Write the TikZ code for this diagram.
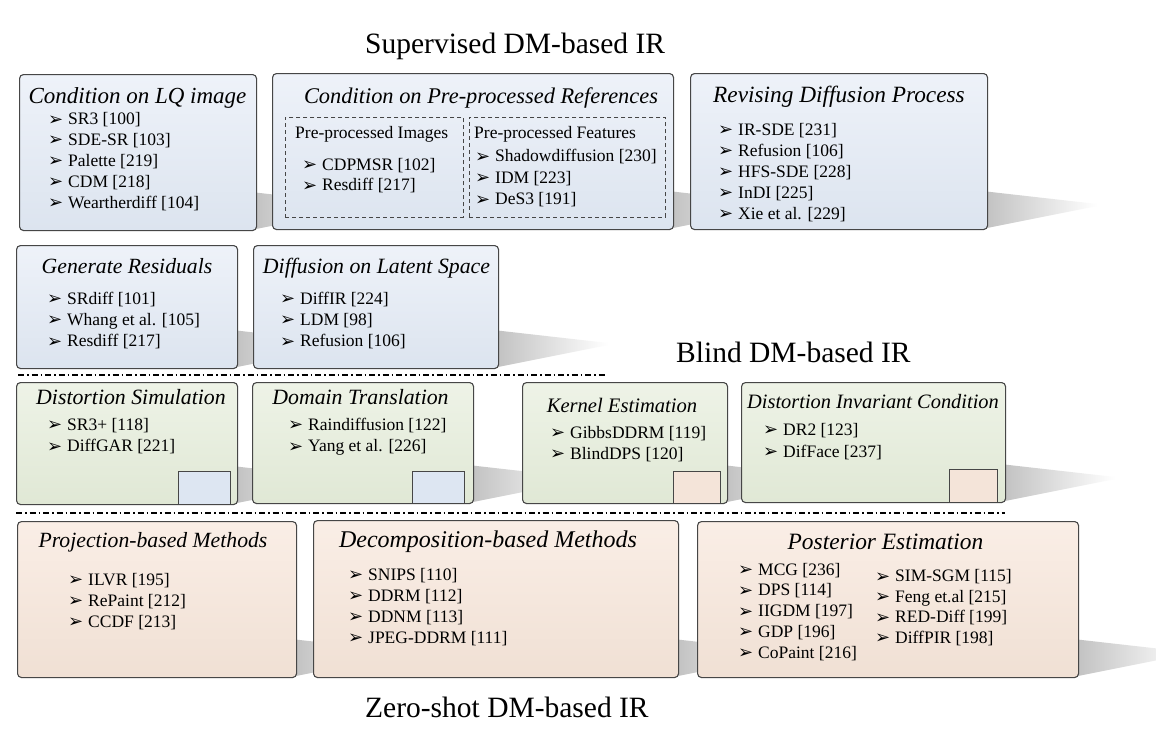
\documentclass[tikz,border=0pt]{standalone}
\usepackage{fontspec}
\setmainfont{Liberation Serif}
\newfontfamily\dv{DejaVu Sans}
\definecolor{blueA}{RGB}{238,242,249}
\definecolor{blueB}{RGB}{220,228,239}
\definecolor{greenA}{RGB}{238,243,231}
\definecolor{greenB}{RGB}{224,232,213}
\definecolor{peachA}{RGB}{250,238,230}
\definecolor{peachB}{RGB}{240,224,212}
\definecolor{sqblue}{RGB}{221,230,242}
\definecolor{sqpeach}{RGB}{244,228,217}
\definecolor{boxborder}{RGB}{70,70,70}
\definecolor{shadowgray}{RGB}{192,192,192}
\newcommand{\bl}{\makebox[20pt][l]{\raisebox{-0.5pt}{\dv\fontsize{18}{18}\selectfont ➢}}}
\newcommand{\floorshadow}[2]{\shade[left color=shadowgray, right color=white] (#1-5,#2-38) -- (#1+110,#2-25) -- (#1+110,#2-23) -- (#1-5,#2) -- cycle;}
\begin{document}
\begin{tikzpicture}[x=1pt,y=-1pt,
  box/.style={draw=boxborder, line width=1.1pt, rounded corners=4pt, inner sep=0pt, anchor=north west},
  bluebox/.style={box, top color=blueA, bottom color=blueB},
  greenbox/.style={box, top color=greenA, bottom color=greenB},
  peachbox/.style={box, top color=peachA, bottom color=peachB},
  dashbox/.style={draw=boxborder, line width=0.9pt, dash pattern=on 4pt off 3pt, inner sep=0pt, anchor=north west},
  sqbox/.style={draw=boxborder, line width=1.1pt, inner sep=0pt, anchor=north west},
  boxtitle/.style={font=\fontsize{#1}{#1}\selectfont\itshape, anchor=base, inner sep=0pt},
  boxtitle/.default=23,
  subhead/.style={font=\fontsize{17.5}{21}\selectfont, anchor=base west, inner sep=0pt},
  item/.style={font=\fontsize{17.5}{21}\selectfont, anchor=base west, inner sep=0pt},
  heading/.style={font=\fontsize{29.5}{34}\selectfont, anchor=base west, inner sep=0pt},
  sepline/.style={line width=1.3pt, dash pattern=on 6pt off 3pt on 1.5pt off 3pt}]
\useasboundingbox (0,0) rectangle (1156,739);
\fill[white] (0,0) rectangle (1156,739);

% shadows
\floorshadow{256}{230}
\floorshadow{673}{229}
\floorshadow{987}{229}
\floorshadow{237}{368}
\floorshadow{498}{368}
\floorshadow{237}{504}
\floorshadow{473}{503}
\floorshadow{727}{503}
\floorshadow{1005}{502}
\floorshadow{296}{677}
\floorshadow{678}{677}
\floorshadow{1078}{677}

% headings
\node[heading] (hsup) at (365,53) {Supervised DM-based IR};
\node[heading] (hblind) at (676,362) {Blind DM-based IR};
\node[heading] (hzero) at (365,717) {Zero-shot DM-based IR};

% separators
\coordinate (s1a) at (18,375);
\coordinate (s1b) at (607,375);
\coordinate (s2a) at (16,513);
\coordinate (s2b) at (1005,513);
\draw[sepline] (s1a) -- (s1b);
\draw[sepline] (s2a) -- (s2b);

% ---------- Supervised row 1
\node[bluebox, minimum width=237pt, minimum height=156pt] (t1) at (19,74) {};
\node[boxtitle] (t1t) at (137.5,103) {Condition on LQ image};
\foreach \t [count=\i from 0] in {{SR3 [100]},{SDE-SR [103]},{Palette [219]},{CDM [218]},{Weartherdiff [104]}}
  \node[item] (t1i\i) at (48,124.5+20.9*\i) {\bl\t};

\node[bluebox, minimum width=401pt, minimum height=156pt] (t2) at (272,73) {};
\node[boxtitle=22.4] (t2t) at (481,103) {Condition on Pre-processed References};
\node[dashbox, minimum width=178pt, minimum height=100pt] (d1) at (285,117) {};
\node[dashbox, minimum width=196pt, minimum height=100pt] (d2) at (469,117) {};
\node[subhead] (d1t) at (295,138) {Pre-processed Images};
\node[subhead] (d2t) at (474,138) {Pre-processed Features};
\foreach \t [count=\i from 0] in {{CDPMSR [102]},{Resdiff [217]}}
  \node[item] (d1i\i) at (302,170+20.7*\i) {\bl\t};
\foreach \t [count=\i from 0] in {{Shadowdiffusion [230]},{IDM [223]},{DeS3 [191]}}
  \node[item] (d2i\i) at (475,161.7+21.6*\i) {\bl\t};

\node[bluebox, minimum width=297pt, minimum height=156pt] (t3) at (690,73) {};
\node[boxtitle=23.3] (t3t) at (839,102) {Revising Diffusion Process};
\foreach \t [count=\i from 0] in {{IR-SDE [231]},{Refusion [106]},{HFS-SDE [228]},{InDI [225]},{Xie et al. [229]}}
  \node[item] (t3i\i) at (718,135+21*\i) {\bl\t};

% ---------- Supervised row 2
\node[bluebox, minimum width=221pt, minimum height=123pt] (s1) at (16,245) {};
\node[boxtitle=21.7] (s1t) at (127,273) {Generate Residuals};
\foreach \t [count=\i from 0] in {{SRdiff [101]},{Whang et al. [105]},{Resdiff [217]}}
  \node[item] (s1i\i) at (47,304+21.3*\i) {\bl\t};

\node[bluebox, minimum width=245pt, minimum height=123pt] (s2) at (253,245) {};
\node[boxtitle=21.8] (s2t) at (376.5,273) {Diffusion on Latent Space};
\foreach \t [count=\i from 0] in {{DiffIR [224]},{LDM [98]},{Refusion [106]}}
  \node[item] (s2i\i) at (280,304+21.3*\i) {\bl\t};

% ---------- Blind row
\node[greenbox, minimum width=221pt, minimum height=122pt] (g1) at (16,382) {};
\node[boxtitle=21.8] (g1t) at (131,404) {Distortion Simulation};
\foreach \t [count=\i from 0] in {{SR3+ [118]},{DiffGAR [221]}}
  \node[item] (g1i\i) at (47,430+21.7*\i) {\bl\t};
\node[sqbox, fill=sqblue, minimum width=52pt, minimum height=33pt] (q1) at (178,471) {};

\node[greenbox, minimum width=221pt, minimum height=121pt] (g2) at (252,382) {};
\node[boxtitle=21.8] (g2t) at (360.5,404) {Domain Translation};
\foreach \t [count=\i from 0] in {{Raindiffusion [122]},{Yang et al. [226]}}
  \node[item] (g2i\i) at (288,430+21.7*\i) {\bl\t};
\node[sqbox, fill=sqblue, minimum width=52pt, minimum height=32pt] (q2) at (412,471) {};

\node[greenbox, minimum width=205pt, minimum height=121pt] (g3) at (522,382) {};
\node[boxtitle=20.6] (g3t) at (622,412) {Kernel Estimation};
\foreach \t [count=\i from 0] in {{GibbsDDRM [119]},{BlindDPS [120]}}
  \node[item] (g3i\i) at (550,438+21*\i) {\bl\t};
\node[sqbox, fill=sqpeach, minimum width=47pt, minimum height=32pt] (q3) at (673,471) {};

\node[greenbox, minimum width=264pt, minimum height=120pt] (g4) at (741,382) {};
\node[boxtitle=20.4] (g4t) at (873,408) {Distortion Invariant Condition};
\foreach \t [count=\i from 0] in {{DR2 [123]},{DifFace [237]}}
  \node[item] (g4i\i) at (763,435+22*\i) {\bl\t};
\node[sqbox, fill=sqpeach, minimum width=48pt, minimum height=33pt] (q4) at (949,469) {};

% ---------- Zero-shot row
\node[peachbox, minimum width=279pt, minimum height=156pt] (p1) at (17,521) {};
\node[boxtitle=21.7] (p1t) at (153,547) {Projection-based Methods};
\foreach \t [count=\i from 0] in {{ILVR [195]},{RePaint [212]},{CCDF [213]}}
  \node[item] (p1i\i) at (68,585+21*\i) {\bl\t};

\node[peachbox, minimum width=365pt, minimum height=157pt] (p2) at (313,520) {};
\node[boxtitle=24] (p2t) at (488,547) {Decomposition-based Methods};
\foreach \t [count=\i from 0] in {{SNIPS [110]},{DDRM [112]},{DDNM [113]},{JPEG-DDRM [111]}}
  \node[item] (p2i\i) at (348,580+21*\i) {\bl\t};

\node[peachbox, minimum width=381pt, minimum height=156pt] (p3) at (697,521) {};
\node[boxtitle=23.4] (p3t) at (885.5,549) {Posterior Estimation};
\foreach \t [count=\i from 0] in {{MCG [236]},{DPS [114]},{IIGDM [197]},{GDP [196]},{CoPaint [216]}}
  \node[item] (p3a\i) at (738,575+20.8*\i) {\bl\t};
\foreach \t [count=\i from 0] in {{SIM-SGM [115]},{Feng et.al [215]},{RED-Diff [199]},{DiffPIR [198]}}
  \node[item] (p3b\i) at (875,581.7+20.5*\i) {\bl\t};
\end{tikzpicture}
\end{document}
